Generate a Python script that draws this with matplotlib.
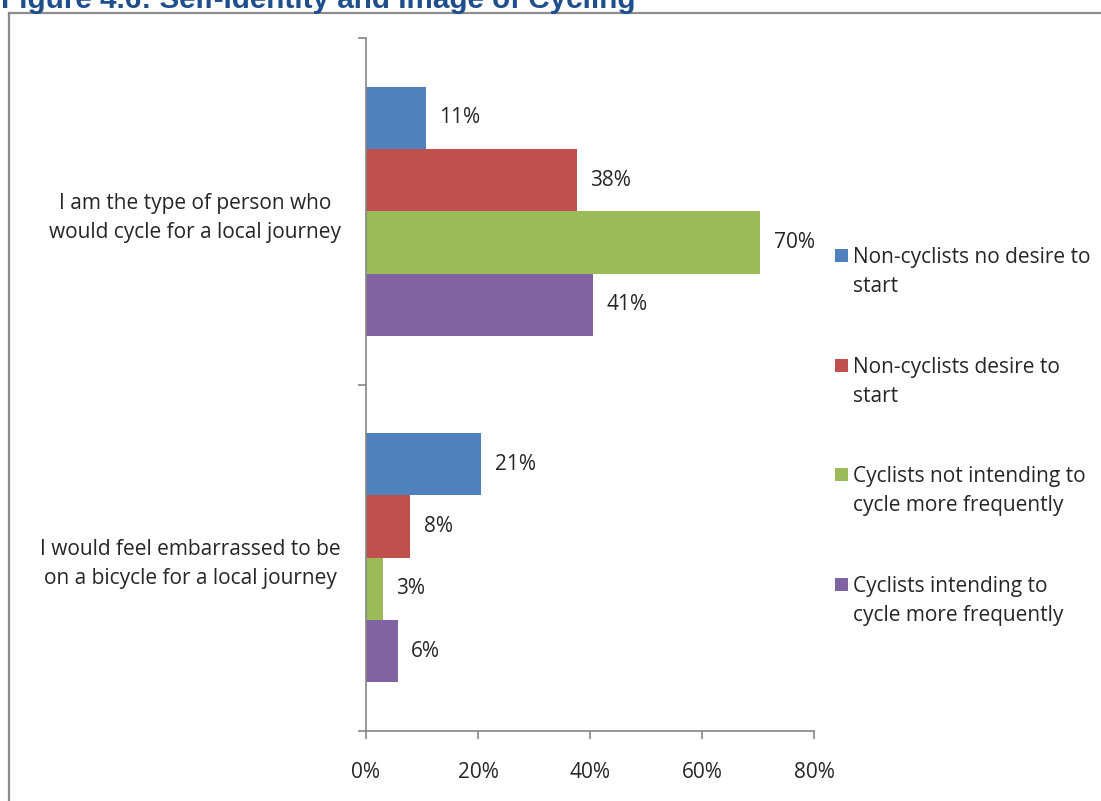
import matplotlib
matplotlib.use('Agg')
import matplotlib.pyplot as plt
import matplotlib.patches as patches
import numpy as np

plt.rcParams['font.family'] = ['Open Sans', 'DejaVu Sans']

# data
categories = ['I am the type of person who\nwould cycle for a local journey',
              'I would feel embarrassed to be\non a bicycle for a local journey']
series_names = ['Non-cyclists no desire to\nstart',
                'Non-cyclists desire to\nstart',
                'Cyclists not intending to\ncycle more frequently',
                'Cyclists intending to\ncycle more frequently']
values = [
    [10.7, 20.6],   # non-cyclists no desire
    [37.7, 7.9],    # non-cyclists desire
    [70.4, 3.0],    # cyclists not intending
    [40.6, 5.7],    # cyclists intending
]
colors = ['#4F81BD', '#C0504D', '#9BBB59', '#8064A2']
xticks = [0, 20, 40, 60, 80]

W, H = 1101, 801
FS = 15
LS = 1.5
TXT = '#262626'
fig = plt.figure(figsize=(W / 100, H / 100), dpi=100)
fig.patch.set_facecolor('white')

# outer frame
fig.add_artist(plt.Line2D([8.5 / W, 8.5 / W], [0, 1 - 12.5 / H], color='#8c8c8c', lw=1.6))
fig.add_artist(plt.Line2D([8.5 / W, 1], [1 - 12.5 / H, 1 - 12.5 / H], color='#8c8c8c', lw=1.6))

# title (partly cut at the top)
fig.text(1 / W, 1 - 8 / H, 'Figure 4.6: Self-Identity and Image of Cycling',
         fontsize=21.3, fontweight='bold', color='#1F4E8C',
         family=['Liberation Sans', 'DejaVu Sans'], va='baseline', ha='left')

ax = fig.add_axes([366 / W, 1 - 731 / H, (814 - 366) / W, (731 - 38) / H])

bar_h = 0.18
centers = np.arange(len(categories)) + 0.5
for i, (vals, col) in enumerate(zip(values, colors)):
    ys = centers + (i - 1.5) * bar_h
    ax.barh(ys, vals, height=bar_h, color=col, edgecolor='none')
    for y, v in zip(ys, vals):
        ax.text(v + 2.4, y, f'{v:.0f}%', va='center', ha='left',
                fontsize=FS, color=TXT)

ax.set_xlim(0, 80)
ax.set_ylim(2, 0)
ax.set_xticks(xticks)
ax.set_xticklabels([f'{t}%' for t in xticks], fontsize=FS, color=TXT)
ax.set_yticks([0, 1, 2])
ax.set_yticklabels([])
ax.set_yticks(centers, minor=True)
ax.set_yticklabels(categories, minor=True, fontsize=FS, color=TXT)
for lab in ax.get_yticklabels(minor=True):
    lab.set_multialignment('center')
    lab.set_linespacing(LS)

ax.tick_params(axis='y', which='minor', length=0, pad=18)
ax.tick_params(axis='y', which='major', length=6, color='#868686', width=1.2)
ax.tick_params(axis='x', length=6, color='#868686', width=1.2, pad=16)

for s in ['top', 'right']:
    ax.spines[s].set_visible(False)
for s in ['left', 'bottom']:
    ax.spines[s].set_color('#868686')
    ax.spines[s].set_linewidth(1.2)

# legend drawn by hand, square aligned with the first line
leg_y = [255, 365, 474, 584]
for name, col, ly in zip(series_names, colors, leg_y):
    fig.add_artist(patches.Rectangle((835 / W, 1 - (ly + 7) / H), 13 / W, 13 / H,
                                     transform=fig.transFigure, facecolor=col,
                                     edgecolor='none'))
    fig.text(853 / W, 1 - (ly - 8) / H, name, fontsize=FS, color=TXT,
             va='top', ha='left', linespacing=LS)

fig.savefig('out.png', dpi=100, facecolor='white')
